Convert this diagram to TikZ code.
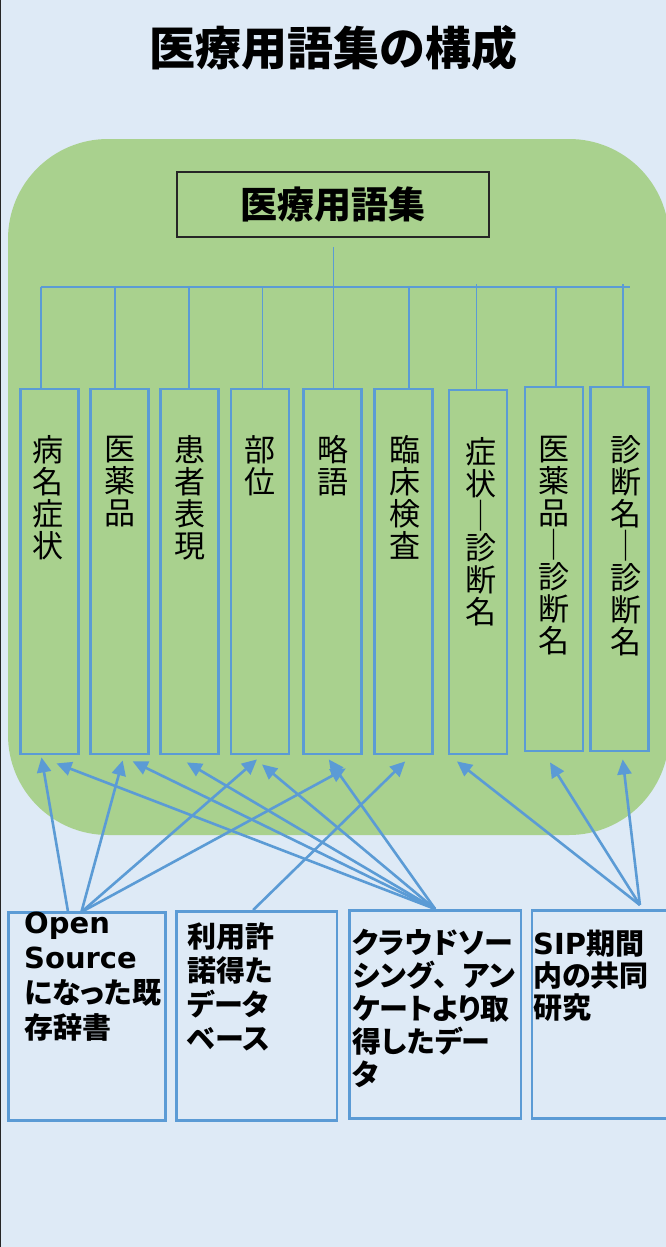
\documentclass[tikz,border=0pt]{standalone}
\usepackage{fontspec}
\newfontfamily\jp{Noto Sans CJK JP}
\newfontfamily\jpp{Noto Sans CJK JP}[RawFeature=+palt]
\newfontfamily\dvs{DejaVu Sans}
\usetikzlibrary{arrows.meta}
\definecolor{bg}{HTML}{DEEAF6}
\definecolor{grn}{HTML}{A9D18E}
\definecolor{lblue}{HTML}{5B9BD5}
\definecolor{dk}{HTML}{262626}
\begin{document}
\begin{tikzpicture}[x=1pt,y=-1pt,
  termbox/.style={draw=lblue, line width=2.8pt, fill=grn, minimum width=58pt, minimum height=365pt, inner sep=0pt},
  srcbox/.style={draw=lblue, line width=2.8pt, inner sep=0pt, anchor=north west},
  vtext/.style={font=\jp\fontsize{31}{32}\selectfont, align=center, inner sep=0pt, anchor=north},
  stext/.style={font=\jpp\bfseries\fontsize{29}{#1}\selectfont, align=left, inner sep=0pt, anchor=north west},
  tree/.style={draw=lblue, line width=1.3pt},
  arr/.style={draw=lblue, line width=2.6pt, -{Triangle[length=15pt,width=14pt]}}
]
\clip (0,0) rectangle (666,1247);
\fill[bg] (0,0) rectangle (666,1247);
\draw[dk, line width=1.2pt] (0.6,0) -- (0.6,1247);
\fill[grn, rounded corners=100pt] (8,139) rectangle (669,835);

% title
\node[font=\jp\bfseries\fontsize{46}{50}\selectfont, inner sep=0pt] (title) at (333.5,48) {医療用語集の構成};
\node[draw=dk, line width=1.8pt, minimum width=312pt, minimum height=65pt, inner sep=0pt,
      font=\jp\bfseries\fontsize{37}{40}\selectfont] (top) at (333,204.5) {医療用語集};

% term boxes
\node[termbox] (t1) at (49.5,571.5) {};
\node[termbox] (t2) at (119.7,571.5) {};
\node[termbox] (t3) at (189.8,571.5) {};
\node[termbox] (t4) at (260,571.5) {};
\node[termbox] (t5) at (332.8,571.5) {};
\node[termbox] (t6) at (403.2,571.5) {};
\node[termbox, minimum height=364pt] (t7) at (478,572) {};
\node[termbox, minimum height=364pt] (t8) at (554,569) {};
\node[termbox, minimum height=364pt] (t9) at (619.7,569) {};

% tree connectors
\coordinate (tr) at (333.5,247);
\coordinate (hb) at (333.5,287);
\coordinate (hl) at (41,287);
\coordinate (hr) at (630,287);
\draw[tree] (tr) -- (hb);
\draw[tree] (hl) -- (hr);
\coordinate (d1) at (41,287);
\coordinate (d2) at (115,287);
\coordinate (d3) at (189,287);
\coordinate (d4) at (262.5,287);
\coordinate (d5) at (333.5,287);
\coordinate (d6) at (409,287);
\coordinate (d7) at (476.6,284);
\coordinate (d8) at (556,287);
\coordinate (d9) at (623,284);
\draw[tree] (d1) -- (d1 |- t1.north);
\draw[tree] (d2) -- (d2 |- t2.north);
\draw[tree] (d3) -- (d3 |- t3.north);
\draw[tree] (d4) -- (d4 |- t4.north);
\draw[tree] (d5) -- (d5 |- t5.north);
\draw[tree] (d6) -- (d6 |- t6.north);
\draw[tree] (d7) -- (d7 |- t7.north);
\draw[tree] (d8) -- (d8 |- t8.north);
\draw[tree] (d9) -- (d9 |- t9.north);

% vertical texts
\node[vtext] at ([xshift=-2pt,yshift=-48pt]t1.north) {病\\名\\症\\状};
\node[vtext] at ([yshift=-48pt]t2.north) {医\\薬\\品};
\node[vtext] at ([yshift=-48pt]t3.north) {患\\者\\表\\現};
\node[vtext] at ([yshift=-48pt]t4.north) {部\\位};
\node[vtext] at ([yshift=-48pt]t5.north) {略\\語};
\node[vtext] at ([xshift=2pt,yshift=-48pt]t6.north) {臨\\床\\検\\査};
\node[vtext] at ([xshift=3pt,yshift=-49pt]t7.north) {症\\状\\│\\診\\断\\名};
\node[vtext] at ([yshift=-50pt]t8.north) {医\\薬\\品\\│\\診\\断\\名};
\node[vtext] at ([xshift=6pt,yshift=-50pt]t9.north) {診\\断\\名\\│\\診\\断\\名};

% source boxes
\node[srcbox, minimum width=157pt, minimum height=208pt] (A) at (7,911) {};
\node[srcbox, minimum width=160.5pt, minimum height=209pt] (B) at (175,910) {};
\node[srcbox, minimum width=171.5pt, minimum height=208pt] (C) at (348,909) {};
\node[srcbox, minimum width=160pt, minimum height=208pt] (D) at (530.5,909) {};

\node[stext=35] at ([xshift=17pt,yshift=-1pt]A.north west) {{\dvs Open}\\{\dvs Source}\\になった既\\存辞書};
\node[stext=34] at ([xshift=12pt,yshift=-12pt]B.north west) {利用許\\諾得た\\データ\\ベース};
\node[stext=33] at ([xshift=4.5pt,yshift=-20pt]C.north west) {クラウドソー\\シング{\jp 、}アン\\ケートより取\\得したデー\\タ};
\node[stext=32] at ([xshift=2.5pt,yshift=-21pt]D.north west) {{\dvs SIP}期間\\内の共同\\研究};

% arrows
\draw[arr] ([xshift=-19pt]A.north) -- ([xshift=-8pt,yshift=-2pt]t1.south);
\draw[arr] ([xshift=-5.5pt,yshift=-1pt]A.north) -- ([xshift=3pt,yshift=-5pt]t2.south);
\draw[arr] ([xshift=-5.5pt,yshift=-1pt]A.north) -- ([xshift=-3pt,yshift=-4pt]t4.south);
\draw[arr] ([xshift=-5.5pt,yshift=-1pt]A.north) -- ([xshift=13pt,yshift=-13pt]t5.south);
\draw[arr] ([xshift=-3.5pt]B.north) -- ([xshift=2pt,yshift=-6pt]t6.south);
\draw[arr] (C.north) -- ([xshift=7pt,yshift=-8pt]t1.south);
\draw[arr] (C.north) -- ([xshift=13pt,yshift=-6pt]t2.south);
\draw[arr] (C.north) -- ([xshift=-3pt,yshift=-7pt]t3.south);
\draw[arr] (C.north) -- ([xshift=2pt,yshift=-9pt]t4.south);
\draw[arr] (C.north) -- ([xshift=-4pt,yshift=-4pt]t5.south);
\draw[arr] ([xshift=28pt,yshift=4pt]D.north) -- ([xshift=-21pt,yshift=-6pt]t7.south);
\draw[arr] ([xshift=28pt,yshift=4pt]D.north) -- ([xshift=-4pt,yshift=-10pt]t8.south);
\draw[arr] ([xshift=28pt,yshift=4pt]D.north) -- ([xshift=3pt,yshift=-7pt]t9.south);
\end{tikzpicture}
\end{document}
